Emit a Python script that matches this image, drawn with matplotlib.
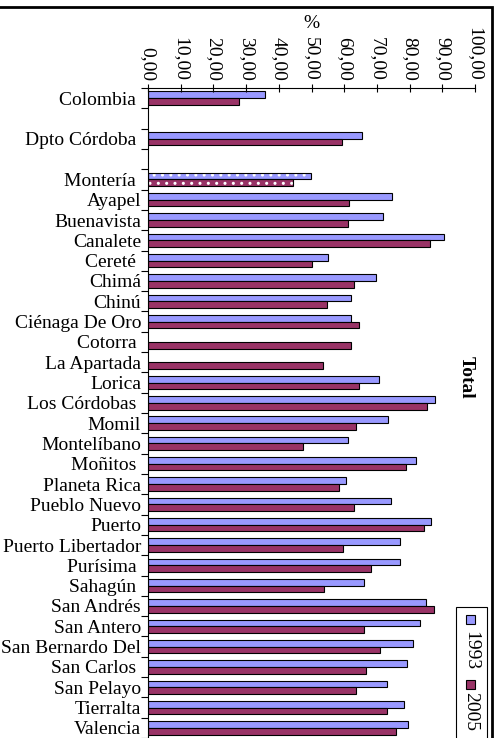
import matplotlib
matplotlib.use("Agg")
import matplotlib.pyplot as plt
from matplotlib.patches import Rectangle
import numpy as np

# categorias (los huecos vacios tambien son filas del eje)
categorias = ["Colombia ", "", "Dpto Córdoba ", "", "Montería ", "Ayapel", "Buenavista",
              "Canalete", "Cereté ", "Chimá", "Chinú", "Ciénaga De Oro", "Cotorra ",
              "La Apartada", "Lorica", "Los Córdobas ", "Momil", "Montelíbano",
              "Moñitos ", "Planeta Rica", "Pueblo Nuevo", "Puerto", "Puerto Libertador",
              "Purísima ", "Sahagún ", "San Andrés", "San Antero", "San Bernardo Del",
              "San Carlos ", "San Pelayo", "Tierralta", "Valencia"]

v1993 = [35.9, np.nan, 65.3, np.nan, 49.7, 74.7, 72.0, 90.6, 55.1, 69.8, 62.1, 62.1,
         np.nan, np.nan, 70.6, 87.8, 73.5, 61.3, 82.1, 60.5, 74.3, 86.6, 77.2, 77.2,
         66.2, 84.9, 83.3, 80.9, 79.2, 73.1, 78.4, 79.6]
v2005 = [27.7, np.nan, 59.2, np.nan, 44.4, 61.6, 61.3, 86.1, 50.2, 63.0, 54.6, 64.6,
         62.1, 53.4, 64.6, 85.3, 63.7, 47.3, 78.9, 58.4, 62.9, 84.5, 59.6, 68.1,
         53.8, 87.5, 66.2, 71.0, 66.6, 63.7, 73.1, 75.9]
series = ["1993", "2005"]
ticks_x = np.arange(0, 101, 10)

c93 = "#9999ff"
c05 = "#993366"

plt.rcParams['font.family'] = ['Liberation Serif', 'DejaVu Serif']
plt.rcParams['font.size'] = 14

fig = plt.figure(figsize=(5.01, 7.38), dpi=100)
W, H = 501.0, 738.0
ax = fig.add_axes([148 / W, 0, (475 - 148) / W, 1 - 88 / H])

y = np.arange(len(categorias))
h = 0.33
a93 = np.array(v1993, dtype=float)
a05 = np.array(v2005, dtype=float)
iMon = categorias.index("Montería ")
normal = np.ones(len(y), bool)
normal[iMon] = False

ax.barh(y[normal] - h / 2, a93[normal], height=h, color=c93, edgecolor="black", linewidth=0.8)
ax.barh(y[normal] + h / 2, a05[normal], height=h, color=c05, edgecolor="black", linewidth=0.8)
# Monteria con trama
ax.barh(y[iMon] - h / 2, a93[iMon], height=h, color=c93, edgecolor="white", hatch="..", linewidth=0)
ax.barh(y[iMon] + h / 2, a05[iMon], height=h, color=c05, edgecolor="white", hatch="..", linewidth=0)
ax.barh(y[iMon] - h / 2, a93[iMon], height=h, fill=False, edgecolor="black", linewidth=0.8)
ax.barh(y[iMon] + h / 2, a05[iMon], height=h, fill=False, edgecolor="black", linewidth=0.8)

ax.set_xlim(0, 100)
ax.set_ylim((738 - 88) / 20.44 - 0.5, -0.5)

ax.xaxis.tick_top()
ax.set_xticks(ticks_x)
ax.set_xticklabels([("%.2f" % t).replace(".", ",") for t in ticks_x])
ax.tick_params(axis="x", direction="inout", length=6, width=0.8, pad=2, labelrotation=270)

ax.set_yticks(y)
ax.set_yticklabels(categorias)
ax.set_yticks(np.arange(-0.5, len(categorias), 1), minor=True)
ax.tick_params(axis="y", which="major", length=0, pad=5)
ax.tick_params(axis="y", which="minor", direction="out", length=5, width=0.8)

for s in ["right", "bottom"]:
    ax.spines[s].set_visible(False)
ax.spines["left"].set_linewidth(0.8)
ax.spines["top"].set_linewidth(0.8)

fig.text(311 / W, 1 - 23 / H, "%", ha="center", va="center")
fig.text(466 / W, 1 - 377 / H, "Total", rotation=270, ha="center", va="center", fontweight="bold")

# leyenda girada
fig.patches.append(Rectangle((456 / W, -0.02), 31 / W, 1 - 607 / H + 0.02, transform=fig.transFigure,
                             fill=False, edgecolor="black", linewidth=0.8))
for col, yc, yt, lab in [(c93, 619, 651, series[0]), (c05, 684, 712, series[1])]:
    fig.patches.append(Rectangle((466 / W, 1 - (yc + 4.5) / H), 9 / W, 9 / H, transform=fig.transFigure,
                                 facecolor=col, edgecolor="black", linewidth=0.8))
    fig.text(471 / W, 1 - yt / H, lab, rotation=270, ha="center", va="center")

# marco
fig.patches.append(Rectangle((-0.01, -0.02), 492 / W + 0.01, 1 - 7 / H + 0.02, transform=fig.transFigure,
                             fill=False, edgecolor="black", linewidth=2))

fig.savefig("out.png", dpi=100)
